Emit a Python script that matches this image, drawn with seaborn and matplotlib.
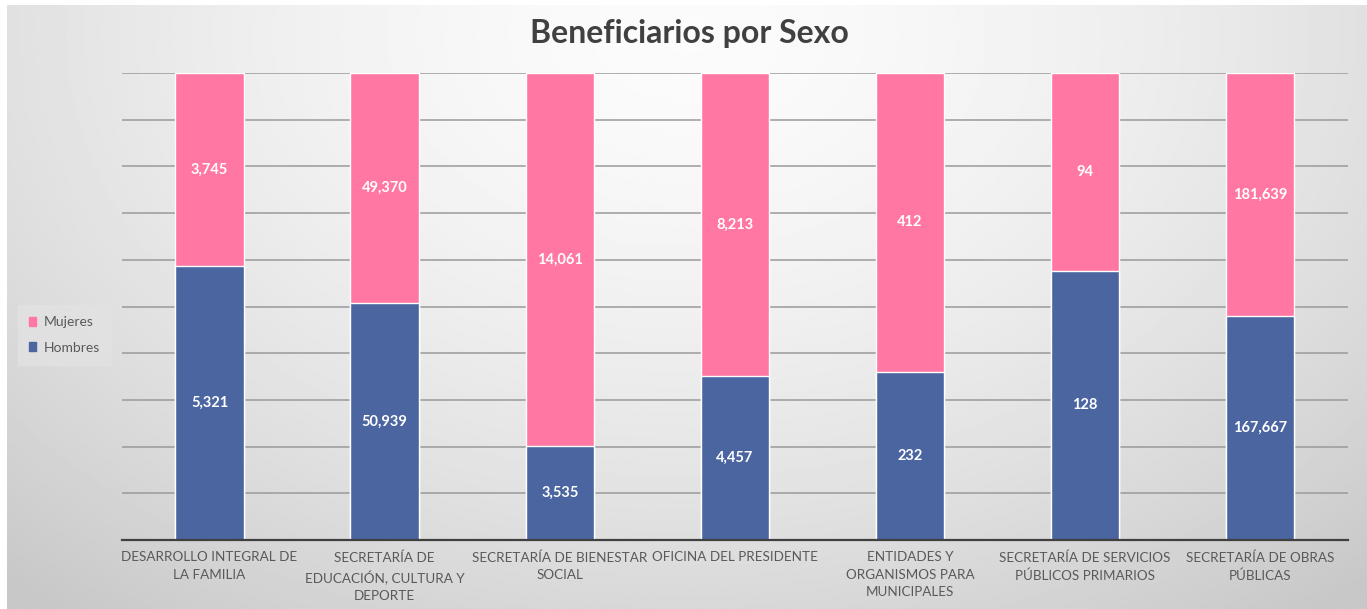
import numpy as np
import pandas as pd
import matplotlib.pyplot as plt
import seaborn as sns
from matplotlib.patches import Patch

categories = [
    "DESARROLLO INTEGRAL DE\nLA FAMILIA",
    "SECRETARÍA DE\nEDUCACIÓN, CULTURA Y\nDEPORTE",
    "SECRETARÍA DE BIENESTAR\nSOCIAL",
    "OFICINA DEL PRESIDENTE",
    "ENTIDADES Y\nORGANISMOS PARA\nMUNICIPALES",
    "SECRETARÍA DE SERVICIOS\nPÚBLICOS PRIMARIOS",
    "SECRETARÍA DE OBRAS\nPÚBLICAS",
]
hombres = [5321, 50939, 3535, 4457, 232, 128, 167667]
mujeres = [3745, 49370, 14061, 8213, 412, 94, 181639]

pink = "#FF77A2"
blue = "#4A65A0"

df = pd.DataFrame({"Categoria": categories, "Hombres": hombres, "Mujeres": mujeres})
df["Total"] = df["Hombres"] + df["Mujeres"]
df["pct_h"] = df["Hombres"] / df["Total"] * 100
df["pct_all"] = 100.0

sns.set_style("white")
plt.rcParams["font.family"] = ["Lato", "DejaVu Sans"]

fig = plt.figure(figsize=(13.67, 6.09), dpi=100)
fig.patch.set_facecolor("white")

# gradient background
bg = fig.add_axes([0.005, 0.0, 0.995, 0.992])
yy, xx = np.mgrid[0:1:300j, 0:1:600j]
r = np.sqrt(((xx - 0.5) / 0.75) ** 2 + ((yy - 0.05) / 1.2) ** 2)
bg.imshow(0.985 - 0.2 * np.clip(r, 0, 1) ** 1.6, cmap="gray", vmin=0, vmax=1,
          aspect="auto", extent=[0, 1, 1, 0])
bg.axis("off")

ax = fig.add_axes([0.0892, 0.1133, 0.8968, 0.7667])
ax.patch.set_alpha(0)

# Mujeres on top = full 100% bar, Hombres drawn over it
sns.barplot(data=df, x="Categoria", y="pct_all", color=pink, width=0.39,
            saturation=1, ax=ax, zorder=3)
sns.barplot(data=df, x="Categoria", y="pct_h", color=blue, width=0.39,
            saturation=1, ax=ax, zorder=3)

cont_m, cont_h = ax.containers[0], ax.containers[1]
for bar, bh, v in zip(cont_m, cont_h, mujeres):
    y0 = bh.get_height()
    ax.text(bar.get_x() + bar.get_width() / 2, (y0 + 100) / 2, f"{v:,}",
            ha="center", va="center", color="white", fontsize=10.5,
            fontweight="bold", zorder=5)
ax.bar_label(cont_h, labels=[f"{v:,}" for v in hombres], label_type="center",
             color="white", fontsize=10.5, fontweight="bold", zorder=5)

ax.set_ylim(0, 100)
ax.set_yticks(np.arange(0, 101, 10))
ax.set_yticklabels([])
ax.yaxis.grid(True, color="#9A9A9A", linewidth=1.1, zorder=0)
ax.set_xlabel("")
ax.set_ylabel("")
ax.tick_params(axis="x", length=0, pad=8, labelsize=9.7, labelcolor="#595959")
ax.tick_params(axis="y", length=0)
for t in ax.get_xticklabels():
    t.set_multialignment("center")
    t.set_linespacing(1.55)
for s in ["top", "right", "left"]:
    ax.spines[s].set_visible(False)
ax.spines["bottom"].set_color("#404040")
ax.spines["bottom"].set_linewidth(1.6)
ax.spines["bottom"].set_zorder(4)

fig.suptitle("Beneficiarios por Sexo", x=0.504, y=0.968, fontsize=23,
             fontweight="bold", color="#404040")

handles = [Patch(color=pink, label="Mujeres"), Patch(color=blue, label="Hombres")]
leg = fig.legend(handles=handles, loc="center left", bbox_to_anchor=(0.016, 0.45),
                 frameon=True, fontsize=10, handlelength=0.55, handleheight=0.55,
                 handletextpad=0.5, labelspacing=0.95, borderpad=0.5,
                 borderaxespad=0)
leg.get_frame().set_facecolor("#E2E2E2")
leg.get_frame().set_edgecolor("#E2E2E2")
leg.get_frame().set_boxstyle("square")
for t in leg.get_texts():
    t.set_color("#595959")

fig.savefig("out.png", dpi=100)
